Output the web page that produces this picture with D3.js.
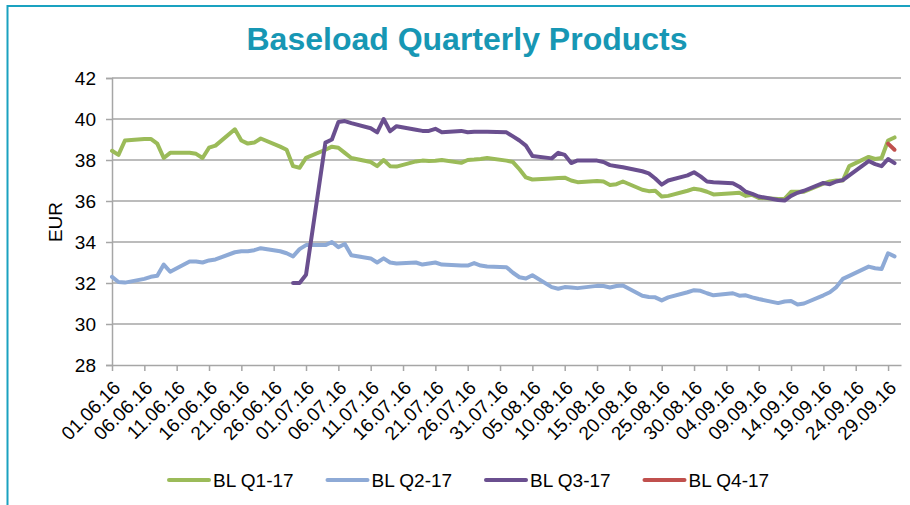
<!DOCTYPE html>
<html>
<head>
<meta charset="utf-8">
<script src="https://cdn.jsdelivr.net/npm/d3@7"></script>
<style>
  body { margin: 0; background: #fff; }
  text { font-family: "Liberation Sans", Arial, sans-serif; }
</style>
</head>
<body>
<script>
// trading days, 01.06.16 - 30.09.16
var dates = [
	"01.06.16","02.06.16","03.06.16","06.06.16","07.06.16","08.06.16","09.06.16","10.06.16",
	"13.06.16","14.06.16","15.06.16","16.06.16","17.06.16","20.06.16","21.06.16","22.06.16","23.06.16","24.06.16",
	"27.06.16","28.06.16","29.06.16","30.06.16","01.07.16",
	"04.07.16","05.07.16","06.07.16","07.07.16","08.07.16","11.07.16","12.07.16","13.07.16","14.07.16","15.07.16",
	"18.07.16","19.07.16","20.07.16","21.07.16","22.07.16","25.07.16","26.07.16","27.07.16","28.07.16","29.07.16",
	"01.08.16","02.08.16","03.08.16","04.08.16","05.08.16","08.08.16","09.08.16","10.08.16","11.08.16","12.08.16",
	"15.08.16","16.08.16","17.08.16","18.08.16","19.08.16","22.08.16","23.08.16","24.08.16","25.08.16","26.08.16",
	"29.08.16","30.08.16","31.08.16","01.09.16","02.09.16",
	"05.09.16","06.09.16","07.09.16","08.09.16","09.09.16","12.09.16","13.09.16","14.09.16","15.09.16","16.09.16",
	"19.09.16","20.09.16","21.09.16","22.09.16","23.09.16","26.09.16","27.09.16","28.09.16","29.09.16","30.09.16"
];

var q1 = [
	38.45,38.25,38.95,39.02,39.03,38.8,38.1,38.35,
	38.35,38.3,38.1,38.6,38.7,39.5,38.95,38.8,38.85,39.05,
	38.65,38.5,37.7,37.62,38.1,
	38.5,38.65,38.6,38.35,38.1,37.9,37.7,38.0,37.7,37.68,
	37.93,37.97,37.95,37.96,38.0,37.86,38.0,38.02,38.05,38.1,
	37.97,37.9,37.55,37.15,37.05,37.1,37.12,37.14,37.0,36.92,
	36.97,36.95,36.78,36.82,36.95,36.55,36.48,36.5,36.22,36.25,
	36.5,36.6,36.55,36.45,36.32,
	36.38,36.4,36.25,36.3,36.15,36.1,36.1,36.45,36.45,36.45,
	36.85,36.95,37.0,37.0,37.7,38.15,38.05,38.1,38.95,39.1
];

var q2 = [
	32.3,32.05,32.02,32.2,32.3,32.35,32.9,32.55,
	33.05,33.05,33.0,33.1,33.15,33.5,33.55,33.55,33.6,33.7,
	33.55,33.45,33.3,33.65,33.85,
	33.85,34.0,33.75,33.9,33.35,33.2,33.0,33.2,33.0,32.95,
	33.0,32.9,32.95,33.0,32.9,32.85,32.85,32.97,32.85,32.8,
	32.77,32.5,32.28,32.22,32.38,31.8,31.72,31.8,31.78,31.75,
	31.86,31.85,31.78,31.85,31.88,31.38,31.32,31.3,31.15,31.3,
	31.55,31.65,31.62,31.5,31.4,
	31.5,31.38,31.4,31.3,31.22,31.02,31.1,31.12,30.95,31.0,
	31.4,31.55,31.8,32.2,32.35,32.8,32.72,32.68,33.45,33.3
];

// Q3 starts trading on 29.06.16
var q3 = [
	null,null,null,null,null,null,null,null,
	null,null,null,null,null,null,null,null,null,null,
	null,null,32.0,32.0,32.4,
	38.85,39.0,39.85,39.9,39.8,39.55,39.35,40.0,39.4,39.65,
	39.48,39.42,39.42,39.52,39.35,39.42,39.35,39.38,39.38,39.38,
	39.35,39.15,38.95,38.7,38.2,38.08,38.35,38.25,37.85,37.98,
	37.97,37.9,37.75,37.7,37.65,37.45,37.35,37.1,36.8,37.0,
	37.25,37.4,37.2,36.95,36.92,
	36.87,36.7,36.45,36.35,36.22,36.05,36.02,36.25,36.4,36.5,
	36.88,36.82,36.95,37.02,37.25,37.95,37.8,37.7,38.05,37.85
];

// Q4 only the last two days
var q4Dates = ["29.09.16","30.09.16"];
var q4 = [38.8,38.5];

var seriesNames = ["BL Q1-17","BL Q2-17","BL Q3-17","BL Q4-17"];
var seriesColors = ["#9bbb59","#8eaad6","#6a4f8f","#c0504d"];

var tickLabels = ["01.06.16","06.06.16","11.06.16","16.06.16","21.06.16","26.06.16","01.07.16",
	"06.07.16","11.07.16","16.07.16","21.07.16","26.07.16","31.07.16","05.08.16","10.08.16",
	"15.08.16","20.08.16","25.08.16","30.08.16","04.09.16","09.09.16","14.09.16","19.09.16",
	"24.09.16","29.09.16"];

var yTicks = [28,30,32,34,36,38,40,42];

var parse = d3.timeParse("%d.%m.%y");

var width = 910, height = 505;
var margin = {left: 112, right: 10, top: 78, bottom: 140};

var svg = d3.select("body").append("svg")
	.attr("width", width)
	.attr("height", height);

// teal frame
svg.append("rect")
	.attr("x", 7.5).attr("y", 6)
	.attr("width", 920).attr("height", 520)
	.attr("fill", "none")
	.attr("stroke", "#1aa2c0")
	.attr("stroke-width", 2);

var x = d3.scaleTime()
	.domain([parse("01.06.16"), parse("01.10.16")])
	.range([margin.left, 901]);

var y = d3.scaleLinear()
	.domain([28, 42])
	.range([365, 78]);

// title
svg.append("text")
	.attr("x", 467).attr("y", 50)
	.attr("text-anchor", "middle")
	.attr("font-size", 32)
	.attr("font-weight", "bold")
	.attr("fill", "#1797b4")
	.text("Baseload Quarterly Products");

// gridlines
svg.append("g")
	.selectAll("line")
	.data(yTicks.slice(1))
	.enter().append("line")
	.attr("x1", margin.left).attr("x2", 901)
	.attr("y1", d => y(d)).attr("y2", d => y(d))
	.attr("stroke", "#a6a6a6")
	.attr("stroke-width", 1.5);

// y axis
var yAxis = svg.append("g")
	.attr("transform", "translate(" + margin.left + ",0)")
	.call(d3.axisLeft(y).tickValues(yTicks).tickSize(6).tickPadding(10).tickFormat(d3.format("d")));
yAxis.select(".domain").attr("stroke", "#a6a6a6").attr("stroke-width", 1.5);
yAxis.selectAll(".tick line").attr("stroke", "#a6a6a6").attr("stroke-width", 1.5);
yAxis.selectAll("text").attr("font-size", 19).attr("fill", "#000")
	.attr("font-family", "Liberation Sans, Arial, sans-serif");

svg.append("text")
	.attr("transform", "translate(62,222) rotate(-90)")
	.attr("text-anchor", "middle")
	.attr("font-size", 19)
	.text("EUR");

// x axis
var xAxis = svg.append("g")
	.attr("transform", "translate(0," + y(28) + ")")
	.call(d3.axisBottom(x).tickValues(tickLabels.map(parse)).tickSize(6).tickSizeOuter(0)
		.tickFormat(d3.timeFormat("%d.%m.%y")));
xAxis.select(".domain").attr("stroke", "#a6a6a6").attr("stroke-width", 1.5);
xAxis.selectAll(".tick line").attr("stroke", "#a6a6a6").attr("stroke-width", 1.5);
xAxis.selectAll("text")
	.attr("font-size", 19).attr("fill", "#000")
	.attr("font-family", "Liberation Sans, Arial, sans-serif")
	.attr("text-anchor", "end")
	.attr("dy", null).attr("y", 0)
	.attr("transform", "translate(9,24) rotate(-45)");

// lines
var line = d3.line()
	.defined(d => d.v != null)
	.x(d => x(d.date))
	.y(d => y(d.v));

function makeSeries(ds, vs) {
	return ds.map(function(d, i) { return {date: parse(d), v: vs[i]}; });
}

var allSeries = [makeSeries(dates, q1), makeSeries(dates, q2), makeSeries(dates, q3), makeSeries(q4Dates, q4)];
var order = [1, 0, 3, 2]; // draw order

svg.append("g")
	.selectAll("path")
	.data(order)
	.enter().append("path")
	.attr("d", i => line(allSeries[i]))
	.attr("fill", "none")
	.attr("stroke", i => seriesColors[i])
	.attr("stroke-width", 4)
	.attr("stroke-linejoin", "round")
	.attr("stroke-linecap", "round");

// legend
var legend = svg.append("g")
	.selectAll("g")
	.data(seriesNames)
	.enter().append("g")
	.attr("transform", (d, i) => "translate(" + (169 + i * 158.5) + ",480)");
legend.append("line")
	.attr("x1", 0).attr("x2", 40)
	.attr("stroke", (d, i) => seriesColors[i])
	.attr("stroke-width", 4)
	.attr("stroke-linecap", "round");
legend.append("text")
	.attr("x", 44).attr("y", 7)
	.attr("font-size", 19)
	.text(d => d);
</script>
</body>
</html>
